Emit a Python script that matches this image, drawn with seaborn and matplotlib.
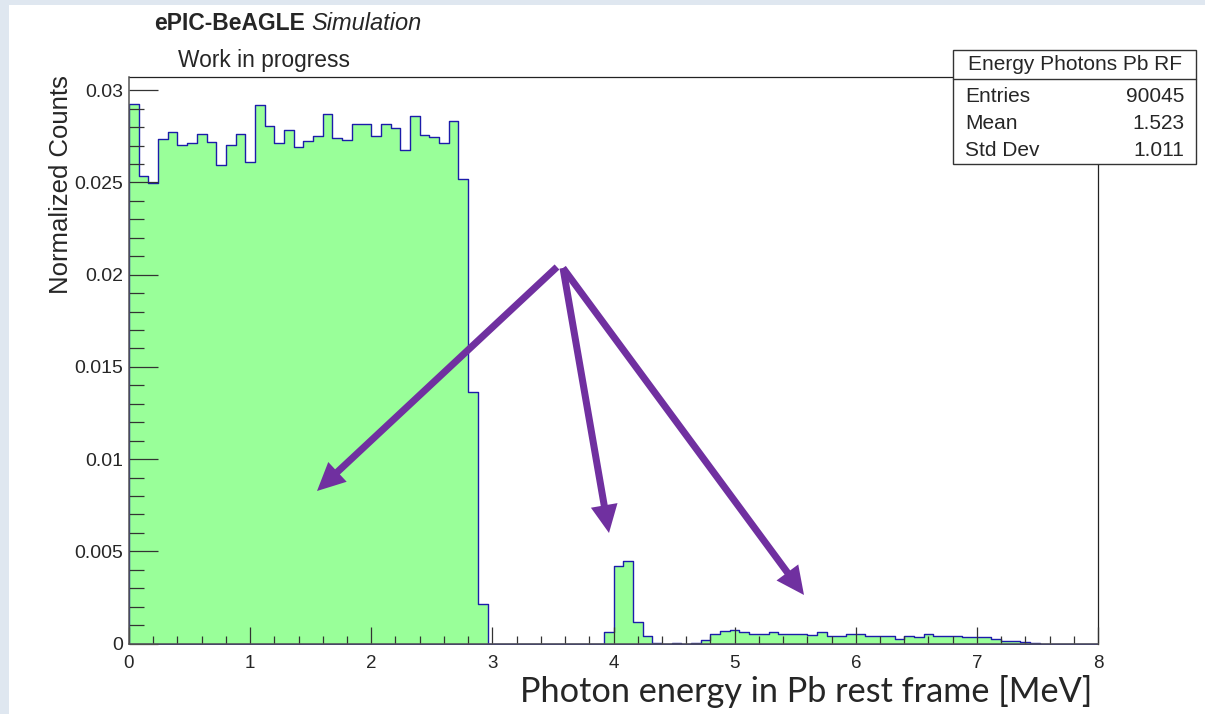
import numpy as np
import pandas as pd
import matplotlib
matplotlib.use("Agg")
import matplotlib.pyplot as plt
import seaborn as sns
from matplotlib.patches import Rectangle, FancyArrow
from matplotlib.transforms import IdentityTransform
from matplotlib.ticker import MultipleLocator, FuncFormatter
from matplotlib.lines import Line2D

# ---------------- data ----------------
x_min, x_max, n_bins = 0.0, 8.0, 100

plateau_counts = [0.02927, 0.02537, 0.02499, 0.02736, 0.02772, 0.02705, 0.02713, 0.02763,
                  0.02718, 0.02597, 0.02702, 0.02763, 0.02611, 0.02920, 0.02805, 0.02713,
                  0.02786, 0.02691, 0.02723, 0.02750, 0.02870, 0.02741, 0.02730, 0.02817,
                  0.02817, 0.02750, 0.02817, 0.02796, 0.02676, 0.02861, 0.02756, 0.02749,
                  0.02713, 0.02835, 0.02517, 0.01362, 0.00213]
gap_counts = [0.0] * 12
line_counts = [0.00063, 0.00421, 0.00445, 0.00118, 0.00038, 0.00004, 0.0, 0.00004, 0.0, 0.00004]
tail_counts = [0.00021, 0.00051, 0.00067, 0.00072, 0.00063, 0.00049, 0.00049, 0.00063,
               0.00052, 0.00054, 0.00054, 0.00045, 0.00060, 0.00038, 0.00043, 0.00054,
               0.00049, 0.00038, 0.00038, 0.00043, 0.00027, 0.00038, 0.00033, 0.00049,
               0.00038, 0.00038, 0.00038, 0.00033, 0.00033, 0.00033, 0.00027, 0.00016,
               0.00016, 0.00007, 0.00004, 0.0, 0.0, 0.0, 0.0, 0.0, 0.0]

stats_title = "Energy Photons Pb RF"
stats_names = ["Entries", "Mean", "Std Dev"]
stats_values = ["90045", "1.523", "1.011"]

x_ticks = [0, 1, 2, 3, 4, 5, 6, 7, 8]
y_ticks = [0, 0.005, 0.01, 0.015, 0.02, 0.025, 0.03]

counts = np.array(plateau_counts + gap_counts + line_counts + tail_counts)
edges = np.linspace(x_min, x_max, n_bins + 1)
centers = 0.5 * (edges[:-1] + edges[1:])
df = pd.DataFrame({"energy": centers, "weight": counts})

# ---------------- style ----------------
W, H = 1205, 714
sns.set_style("ticks")
plt.rcParams["font.family"] = ["Liberation Sans", "DejaVu Sans"]

fig = plt.figure(figsize=(W / 100, H / 100), dpi=100)
fig.patch.set_facecolor("white")

def fx(px):
    return px / W

def fy(py):
    return 1 - py / H

ax_l, ax_r, ax_t, ax_b = 129, 1098, 77, 643.5
ax = fig.add_axes([fx(ax_l), fy(ax_b), (ax_r - ax_l) / W, (ax_b - ax_t) / H])

sns.histplot(data=df, x="energy", weights="weight", bins=[float(e) for e in edges],
             element="step", fill=True, facecolor="#99ff99", edgecolor="#1c1caa",
             linewidth=1.0, ax=ax, legend=False)

ax.set_xlim(x_min, x_max)
y_top = (ax_b - ax_t) / ((ax_b - 90.3) / 0.03)
ax.set_ylim(0, y_top)
ax.set_xlabel("")
ax.set_ylabel("")
ax.set_axisbelow(False)

ax.set_xticks(x_ticks)
ax.xaxis.set_minor_locator(MultipleLocator(0.2))
ax.set_yticks(y_ticks)
ax.yaxis.set_minor_locator(MultipleLocator(0.001))
ax.yaxis.set_major_formatter(FuncFormatter(lambda v, p: f"{v:g}"))
ax.xaxis.set_major_formatter(FuncFormatter(lambda v, p: f"{v:g}"))

ax.tick_params(axis="x", which="major", direction="in", length=12.2, width=0.9,
               color="#333333", labelsize=13.5, pad=8.5, top=False)
ax.tick_params(axis="x", which="minor", direction="in", length=6, width=0.9,
               color="#333333", top=False)
ax.tick_params(axis="y", which="major", direction="in", length=21, width=0.9,
               color="#333333", labelsize=14, pad=4.5, right=False)
ax.tick_params(axis="y", which="minor", direction="in", length=10.8, width=0.9,
               color="#333333", right=False)
for s in ["left", "bottom"]:
    ax.spines[s].set_color("#555555")
    ax.spines[s].set_linewidth(1.1)
    ax.spines[s].set_zorder(4)
for s in ["top", "right"]:
    ax.spines[s].set_visible(True)
    ax.spines[s].set_color("#222222")
    ax.spines[s].set_linewidth(0.9)

# ---------------- texts ----------------
fig.text(fx(154), fy(23), "ePIC-BeAGLE", fontsize=16.5, fontweight="bold",
         ha="left", va="center")
fig.text(fx(311), fy(23), "Simulation", fontsize=17, fontstyle="italic",
         ha="left", va="center")
fig.text(fx(178), fy(60), "Work in progress", fontsize=16.4, ha="left", va="center")
fig.text(fx(61), fy(185), "Normalized Counts", fontsize=18.5, rotation=90,
         ha="center", va="center")
fig.text(fx(806), fy(692), "Photon energy in Pb rest frame [MeV]", fontsize=24.7,
         family=["Lato", "DejaVu Sans"], ha="center", va="center")

# ---------------- stats box ----------------
bx0, bx1, by0, by1, bsep = 953, 1196, 50, 164, 79
box = Rectangle((fx(bx0), fy(by1)), (bx1 - bx0) / W, (by1 - by0) / H,
                transform=fig.transFigure, facecolor="white", edgecolor="#333333",
                linewidth=1.0, zorder=5)
fig.add_artist(box)
fig.add_artist(Line2D([fx(bx0), fx(bx1)], [fy(bsep), fy(bsep)], transform=fig.transFigure,
                      color="#333333", linewidth=1.0, zorder=6))
fig.text(fx((bx0 + bx1) / 2), fy(65), stats_title, fontsize=15, ha="center",
         va="center", zorder=7)
for i, (n, v) in enumerate(zip(stats_names, stats_values)):
    yy = 96.5 + i * 27
    fig.text(fx(965), fy(yy), n, fontsize=15, ha="left", va="center", zorder=7)
    fig.text(fx(1184), fy(yy), v, fontsize=15, ha="right", va="center", zorder=7)

# ---------------- slide background strips ----------------
strip = "#dfe7f0"
fig.add_artist(Rectangle((0, 0), 9, H, transform=IdentityTransform(), facecolor=strip,
                         edgecolor="none", zorder=0))
fig.add_artist(Rectangle((0, H - 5), W, 5, transform=IdentityTransform(), facecolor=strip,
                         edgecolor="none", zorder=0))

# ---------------- annotation arrows (pixel coords) ----------------
purple = "#7030a0"
arrows = [((557, 267), (317, 491)), ((563, 268), (609, 533)), ((563, 268), (804, 595))]
for (x0, y0), (x1, y1) in arrows:
    a = FancyArrow(x0, H - y0, x1 - x0, -(y1 - y0), width=7, head_width=27,
                   head_length=28, length_includes_head=True, color=purple,
                   linewidth=0, transform=IdentityTransform(), zorder=8)
    fig.add_artist(a)

fig.savefig("out.png", dpi=100)
